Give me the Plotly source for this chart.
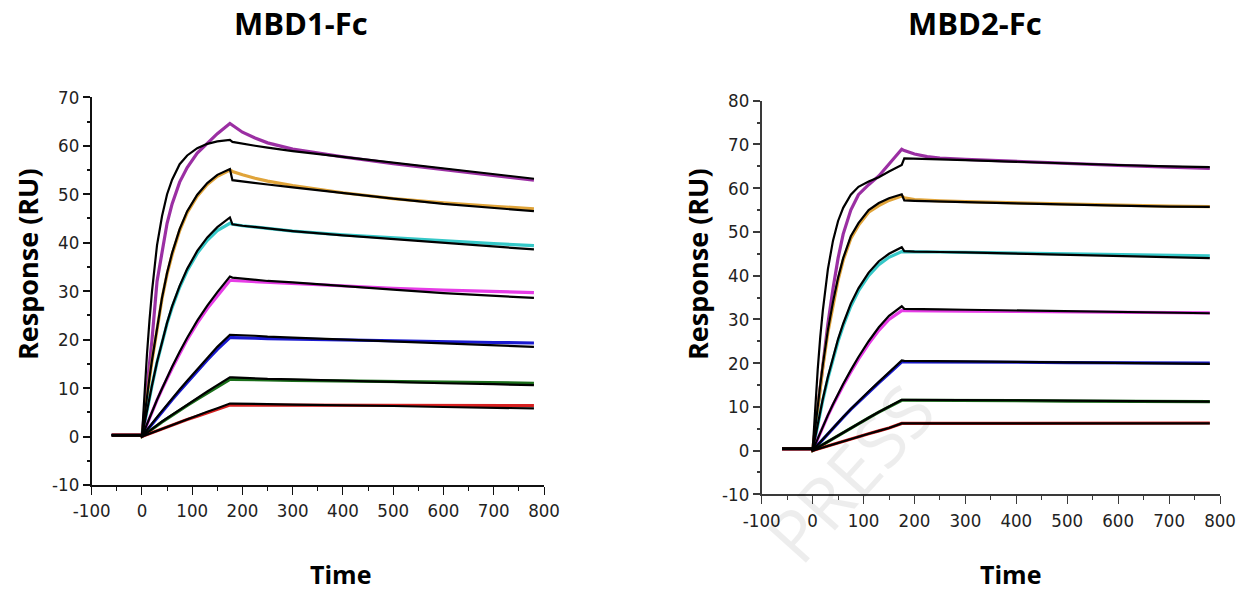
import plotly.graph_objects as go

# ---------------- shared time grid ----------------
base_t = [-60, -1]
t_assoc = [0, 5, 10, 15, 20, 30, 40, 50, 60, 75, 90, 110, 130, 150, 175]
t_dissoc = [180, 200, 225, 250, 300, 400, 500, 600, 700, 780]

colors = ["#9B2FA3", "#E0A43A", "#36C8C8", "#E63CE6", "#1A1ACF", "#1A6E1A", "#D62020"]

# ---------------- MBD1-Fc (left) ----------------
l_base = 0.3
l_data_assoc = [
    [0, 5, 10, 15, 20, 32, 38.5, 44, 48, 52.5, 55.5, 58.5, 60.5, 62.5, 64.6],
    [0, 4.3, 8.2, 12, 15.6, 22.5, 28.5, 33.5, 37.5, 42.5, 46.2, 49.6, 52.0, 53.7, 55],
    [0, 2.8, 5.5, 8, 10.5, 15.3, 19.5, 23.3, 26.6, 30.8, 34.2, 37.8, 40.5, 42.5, 44.0],
    [0, 1.3, 2.6, 3.9, 5.1, 7.5, 9.8, 12, 14.1, 17.1, 20, 23.4, 26.4, 29.0, 32.2],
    [0, 0.65, 1.3, 1.95, 2.6, 3.9, 5.2, 6.4, 7.6, 9.4, 11.2, 13.5, 15.8, 18.0, 20.4],
    [0, 0.4, 0.8, 1.2, 1.6, 2.3, 3.0, 3.7, 4.4, 5.4, 6.4, 7.7, 9.0, 10.3, 11.8],
    [0, 0.2, 0.4, 0.6, 0.8, 1.2, 1.6, 2.0, 2.35, 2.9, 3.5, 4.2, 4.95, 5.65, 6.5],
]
l_data_dissoc = [
    [64.2, 62.8, 61.6, 60.6, 59.3, 57.7, 56.3, 55.1, 53.9, 52.9],
    [54.7, 54.0, 53.3, 52.7, 51.8, 50.3, 49.1, 48.2, 47.5, 47.0],
    [43.8, 43.5, 43.2, 43.0, 42.4, 41.6, 41.0, 40.3, 39.8, 39.4],
    [32.2, 32.1, 32.0, 31.8, 31.5, 31.0, 30.6, 30.2, 29.9, 29.7],
    [20.4, 20.4, 20.3, 20.2, 20.1, 19.9, 19.7, 19.5, 19.4, 19.3],
    [11.8, 11.8, 11.75, 11.7, 11.6, 11.5, 11.3, 11.2, 11.1, 11.0],
    [6.5, 6.5, 6.5, 6.5, 6.5, 6.5, 6.45, 6.45, 6.4, 6.4],
]
l_fit_assoc = [
    [0, 9, 17, 24, 30, 39.5, 45.5, 50, 53, 56.2, 58, 59.5, 60.4, 60.9, 61.2],
    [0, 4.3, 8.3, 12.2, 15.8, 22.7, 28.7, 33.8, 37.9, 42.8, 46.5, 49.9, 52.3, 54.0, 55.2],
    [0, 2.8, 5.5, 8.1, 10.6, 15.4, 19.7, 23.5, 26.9, 31.1, 34.6, 38.3, 41.1, 43.2, 45.2],
    [0, 1.3, 2.6, 3.9, 5.2, 7.6, 9.9, 12.2, 14.4, 17.5, 20.4, 23.9, 27.0, 29.8, 33.0],
    [0, 0.7, 1.35, 2.0, 2.7, 4.0, 5.3, 6.6, 7.8, 9.7, 11.5, 13.9, 16.2, 18.5, 21.0],
    [0, 0.4, 0.8, 1.25, 1.65, 2.4, 3.1, 3.8, 4.5, 5.6, 6.6, 7.9, 9.3, 10.6, 12.2],
    [0, 0.2, 0.4, 0.6, 0.8, 1.25, 1.65, 2.05, 2.45, 3.0, 3.6, 4.35, 5.1, 5.85, 6.8],
]
l_fit_dissoc = [
    [60.8, 60.4, 60.0, 59.6, 58.9, 57.7, 56.5, 55.3, 54.1, 53.2],
    [52.9, 52.6, 52.3, 52.0, 51.4, 50.2, 49.1, 48.0, 47.2, 46.5],
    [43.8, 43.5, 43.2, 43.0, 42.4, 41.5, 40.7, 39.9, 39.1, 38.6],
    [32.8, 32.6, 32.3, 32.1, 31.8, 31.0, 30.3, 29.6, 29.0, 28.6],
    [21.0, 20.9, 20.8, 20.6, 20.4, 20.0, 19.6, 19.2, 18.8, 18.5],
    [12.2, 12.1, 12.0, 11.9, 11.8, 11.5, 11.3, 11.0, 10.8, 10.6],
    [6.8, 6.8, 6.7, 6.7, 6.6, 6.5, 6.3, 6.1, 5.9, 5.8],
]

# ---------------- MBD2-Fc (right) ----------------
r_base = 0.4
r_data_assoc = [
    [0, 5, 10, 15, 20, 29, 37, 44, 49.5, 55, 58.5, 60.8, 62.8, 65.5, 68.9],
    [0, 5, 10, 14.5, 19, 27, 33.5, 39, 43.5, 48.5, 51.5, 54.5, 56, 57.2, 58.2],
    [0, 3, 6, 8.8, 11.5, 16.5, 21, 25, 28.5, 33, 36.5, 40, 42.5, 44.2, 45.5],
    [0, 1.4, 2.8, 4.1, 5.4, 8, 10.4, 12.7, 14.9, 18, 20.9, 24.4, 27.5, 30, 32],
    [0, 0.65, 1.3, 1.95, 2.6, 3.9, 5.2, 6.4, 7.6, 9.4, 11.1, 13.3, 15.5, 17.6, 20.3],
    [0, 0.35, 0.7, 1.05, 1.4, 2.1, 2.8, 3.5, 4.2, 5.2, 6.2, 7.5, 8.8, 10.0, 11.5],
    [0, 0.18, 0.36, 0.54, 0.72, 1.1, 1.45, 1.8, 2.15, 2.7, 3.2, 3.85, 4.5, 5.15, 6.2],
]
r_data_dissoc = [
    [68.6, 67.8, 67.2, 66.9, 66.6, 66.1, 65.6, 65.2, 64.8, 64.5],
    [57.8, 57.4, 57.2, 57.1, 56.9, 56.6, 56.3, 56.1, 55.9, 55.8],
    [45.5, 45.5, 45.4, 45.4, 45.3, 45.1, 45.0, 44.8, 44.6, 44.5],
    [32.0, 32.0, 32.0, 31.9, 31.9, 31.8, 31.7, 31.6, 31.6, 31.5],
    [20.3, 20.3, 20.3, 20.3, 20.2, 20.2, 20.1, 20.1, 20.0, 20.0],
    [11.5, 11.5, 11.5, 11.5, 11.4, 11.4, 11.3, 11.3, 11.2, 11.2],
    [6.2, 6.2, 6.2, 6.2, 6.2, 6.3, 6.3, 6.3, 6.3, 6.3],
]
r_fit_assoc = [
    [0, 10, 18.5, 26, 32, 41.5, 48, 52.5, 55.5, 58.5, 60.3, 61.5, 62.5, 63.8, 65.3],
    [0, 5.3, 10.4, 15, 19.6, 27.6, 34, 39.5, 44, 49, 52, 55, 56.6, 57.7, 58.6],
    [0, 3.1, 6.1, 9, 11.8, 16.9, 21.4, 25.5, 29, 33.6, 37.1, 40.7, 43.3, 45.0, 46.5],
    [0, 1.4, 2.8, 4.2, 5.5, 8.1, 10.6, 13.0, 15.2, 18.4, 21.4, 25.0, 28.2, 30.8, 33.0],
    [0, 0.65, 1.3, 1.95, 2.6, 3.9, 5.2, 6.5, 7.7, 9.5, 11.3, 13.5, 15.7, 17.9, 20.6],
    [0, 0.35, 0.7, 1.05, 1.4, 2.1, 2.8, 3.5, 4.2, 5.2, 6.2, 7.5, 8.8, 10.1, 11.6],
    [0, 0.18, 0.36, 0.54, 0.72, 1.1, 1.45, 1.8, 2.15, 2.7, 3.2, 3.85, 4.5, 5.15, 6.2],
]
r_fit_dissoc = [
    [66.8, 66.7, 66.6, 66.6, 66.4, 66.0, 65.6, 65.3, 65.0, 64.8],
    [57.2, 57.1, 57.0, 56.9, 56.8, 56.5, 56.2, 56.0, 55.8, 55.7],
    [45.6, 45.5, 45.4, 45.4, 45.3, 45.0, 44.8, 44.5, 44.2, 44.0],
    [32.4, 32.4, 32.3, 32.3, 32.2, 32.0, 31.9, 31.7, 31.5, 31.4],
    [20.5, 20.5, 20.5, 20.4, 20.4, 20.3, 20.2, 20.0, 19.9, 19.8],
    [11.6, 11.6, 11.6, 11.6, 11.5, 11.5, 11.4, 11.3, 11.3, 11.2],
    [6.2, 6.2, 6.2, 6.2, 6.2, 6.2, 6.2, 6.2, 6.2, 6.2],
]

x_ticks = [-100, 0, 100, 200, 300, 400, 500, 600, 700, 800]
x_ticktext = ["-100", "0", "100", "200", "300", "400", "500", "600", "700", "800"]
y_ticks_l = [-10, 0, 10, 20, 30, 40, 50, 60, 70]
y_ticktext_l = ["-10", "0", "10", "20", "30", "40", "50", "60", "70"]
y_ticks_r = [-10, 0, 10, 20, 30, 40, 50, 60, 70, 80]
y_ticktext_r = ["-10", "0", "10", "20", "30", "40", "50", "60", "70", "80"]
titles = ["MBD1-Fc", "MBD2-Fc"]
y_label = "Response (RU)"
x_label = "Time"

W, H = 1243, 592
fig = go.Figure()


def add_panel(xa, ya, base, d_as, d_di, f_as, f_di):
    full_t = base_t + t_assoc + t_dissoc
    for i, c in enumerate(colors):
        fig.add_trace(go.Scatter(
            x=full_t, y=[base, base] + d_as[i] + d_di[i], mode="lines",
            line=dict(color=c, width=3.2), xaxis=xa, yaxis=ya, hoverinfo="skip",
            showlegend=False))
    for i in range(len(colors)):
        fig.add_trace(go.Scatter(
            x=full_t, y=[base, base] + f_as[i] + f_di[i], mode="lines",
            line=dict(color="#000000", width=2.2), xaxis=xa, yaxis=ya,
            hoverinfo="skip", showlegend=False))


add_panel("x", "y", l_base, l_data_assoc, l_data_dissoc, l_fit_assoc, l_fit_dissoc)
add_panel("x2", "y2", r_base, r_data_assoc, r_data_dissoc, r_fit_assoc, r_fit_dissoc)

tick_font = dict(family="DejaVu Sans Condensed, Liberation Sans Narrow, Arial Narrow", size=18.5, color="#222222")


def xaxis_style(domain, anchor, lc):
    return dict(domain=domain, anchor=anchor, range=[-100, 800], tickvals=x_ticks,
                ticktext=x_ticktext, automargin=False,
                showline=True, linecolor=lc, linewidth=2, ticks="outside", ticklen=8,
                tickwidth=1.2, tickcolor=lc, showgrid=False, zeroline=False,
                minor=dict(dtick=50, tick0=0, ticks="outside", ticklen=4, tickcolor=lc, tickwidth=1),
                tickfont=tick_font, fixedrange=True)


def yaxis_style(domain, anchor, rng, tv, tt, lc):
    return dict(domain=domain, anchor=anchor, range=rng, tickvals=tv, ticktext=tt,
                automargin=False,
                showline=True, linecolor=lc, linewidth=1.5, ticks="outside", ticklen=7,
                tickwidth=2, tickcolor=lc, showgrid=False, zeroline=False,
                minor=dict(dtick=5, tick0=0, ticks="outside", ticklen=3, tickcolor=lc, tickwidth=1.5),
                tickfont=tick_font, fixedrange=True)


fig.update_layout(
    width=W, height=H, margin=dict(l=0, r=0, t=0, b=0, autoexpand=False),
    paper_bgcolor="white", plot_bgcolor="white",
    xaxis=xaxis_style([91.7 / W, 544 / W], "y", "#111111"),
    yaxis=yaxis_style([1 - 485 / H, 1 - 97.3 / H], "x", [-10, 70], y_ticks_l, y_ticktext_l, "#111111"),
    xaxis2=xaxis_style([761.7 / W, 1220 / W], "y2", "#3a3a3a"),
    yaxis2=yaxis_style([1 - 494.3 / H, 1 - 100.7 / H], "x2", [-10, 80], y_ticks_r, y_ticktext_r, "#3a3a3a"),
)

bold = "Open Sans"
ann = []
for txt, xc in zip(titles, [301, 975]):
    ann.append(dict(text="<b>%s</b>" % txt, x=xc / W, y=1 - 23 / H, xref="paper", yref="paper",
                    showarrow=False, xanchor="center", yanchor="middle",
                    font=dict(family=bold, size=31, color="#000000")))
for xc in [340, 1010]:
    ann.append(dict(text="<b>%s</b>" % x_label, x=xc / W, y=1 - 574 / H, xref="paper", yref="paper",
                    showarrow=False, xanchor="center", yanchor="middle",
                    font=dict(family=bold, size=25, color="#000000")))
for xc in [27, 697]:
    ann.append(dict(text="<b>%s</b>" % y_label, x=xc / W, y=1 - 264 / H, xref="paper", yref="paper",
                    showarrow=False, xanchor="center", yanchor="middle", textangle=-90,
                    font=dict(family=bold, size=27, color="#000000")))
# faint watermark
ann.append(dict(text="PRESS", x=850 / W, y=1 - 472 / H, xref="paper", yref="paper",
                showarrow=False, xanchor="center", yanchor="middle", textangle=-48,
                font=dict(family="Open Sans", size=72, color="rgba(0,0,0,0.07)")))
fig.update_layout(annotations=ann)

fig.write_html("out.html")
